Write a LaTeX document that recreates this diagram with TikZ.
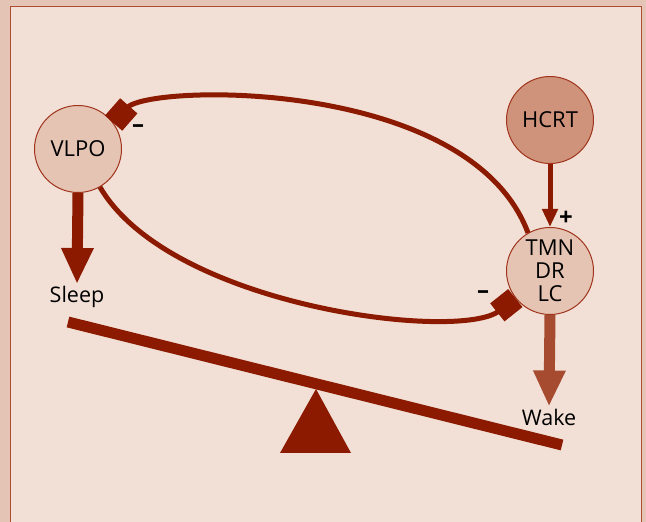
\documentclass[tikz,border=0pt]{standalone}
\usepackage{fontspec}
\setmainfont{Open Sans}
\usetikzlibrary{arrows.meta}

\definecolor{outerbg}{HTML}{E3C4B5}
\definecolor{innerbg}{HTML}{F2E0D6}
\definecolor{frameline}{HTML}{B04A30}
\definecolor{darkred}{HTML}{8B1A00}
\definecolor{nodeline}{HTML}{A0341C}
\definecolor{nodefill}{HTML}{E5C4B4}
\definecolor{hcrtfill}{HTML}{CF937B}
\definecolor{wakecol}{HTML}{A64B30}

\begin{document}
\begin{tikzpicture}[x=1pt,y=1pt,
  region/.style={circle, draw=nodeline, line width=1pt, minimum size=87pt, inner sep=0pt, align=center, font=\fontsize{22}{23}\selectfont},
  statename/.style={inner sep=2pt, font=\fontsize{21.5}{23}\selectfont},
  signtxt/.style={inner sep=0pt, font=\fontsize{24}{24}\selectfont\bfseries},
  excite/.style={-{Triangle[length=18pt,width=15pt]}, line width=5pt, darkred},
  inhibit/.style={-{Square[length=23pt,width=23pt]}, line width=5pt, darkred},
  bigflow/.style={-{Triangle[length=36pt,width=30pt]}, line width=11pt}]

% Page and framed panel
\useasboundingbox (0,0) rectangle (646,522);
\fill[outerbg] (0,0) rectangle (646,522);
\fill[innerbg] (10,0) rectangle (641,515);
\draw[frameline, line width=1pt] (10,-2) -- (10,515) -- (641,515) -- (641,-2);

% Brain regions and the two states
\node[region, fill=nodefill] (vlpo) at (78,373) {VLPO};
\node[region, fill=hcrtfill] (hcrt) at (550,402) {HCRT};
\node[region, fill=nodefill] (tmn) at (550,251) {TMN\\DR\\LC};
\node[statename] (sleep) at (77,225) {Sleep};
\node[statename] (wake) at (549,105) {Wake};

% Mutual inhibition and the orexin drive
\draw[inhibit] (tmn.120) .. controls (470,445) and (148,438) .. (vlpo.36);
\draw[inhibit] (vlpo.-60) .. controls (170,215) and (460,180) .. (tmn.218);
\draw[excite] (hcrt) -- (tmn);
\node[signtxt] (minusv) at (138,393) {--};
\node[signtxt] (minust) at (483,227) {--};
\node[signtxt] (plust) at (566,304) {+};

% Outputs
\draw[bigflow, darkred] (vlpo.south) -- (sleep.north);
\draw[bigflow, wakecol] (tmn.south) -- (wake.north);

% The seesaw
\coordinate (beamL) at (68,200);
\coordinate (beamR) at (562,77);
\draw[darkred, line width=11pt] (beamL) -- (beamR);
\fill[darkred] (316,133) -- (280,69) -- (351,69) -- cycle;

\end{tikzpicture}
\end{document}
